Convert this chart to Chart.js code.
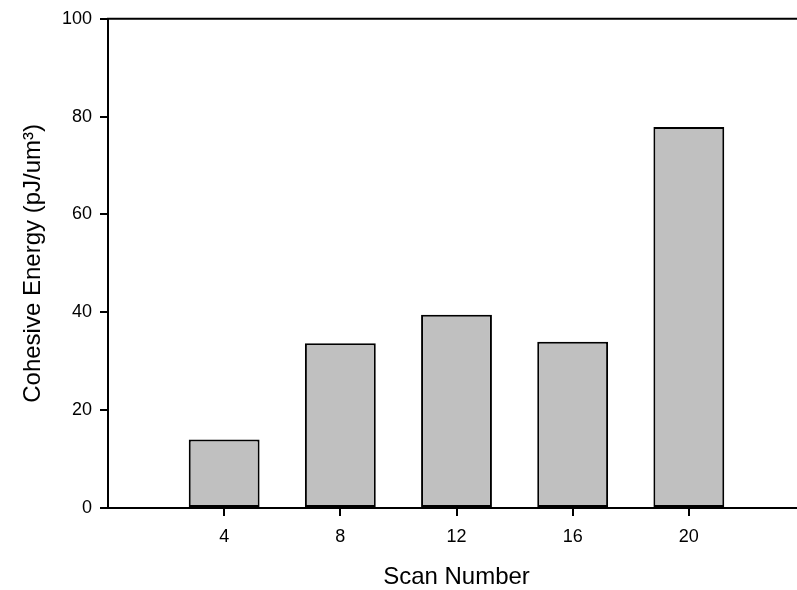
<!DOCTYPE html>
<html>
<head>
<meta charset="utf-8">
<script src="https://cdn.jsdelivr.net/npm/chart.js@4/dist/chart.umd.min.js"></script>
<style>
  html, body { margin: 0; padding: 0; background: #fff; overflow: hidden; }
  #wrap { position: relative; width: 805px; height: 590px; }
</style>
</head>
<body>
<div id="wrap"><canvas id="chart"></canvas></div>
<script>
// Cohesive energy measured after each scan count
const scanNumbers = [4, 8, 12, 16, 20];
const cohesiveEnergy = [14.0, 33.7, 39.5, 34.0, 77.9];
const xTickValues = [4, 8, 12, 16, 20];
const yTickValues = [0, 20, 40, 60, 80, 100];

const FONT = '"Liberation Sans", Arial, sans-serif';

// Box around the plotting area, plus outward tick marks on the x axis
const frame = {
  id: 'frame',
  afterDatasetsDraw(chart) {
    const { ctx, chartArea: a, scales } = chart;
    ctx.save();
    ctx.strokeStyle = '#000';
    ctx.lineWidth = 2;
    ctx.beginPath();
    ctx.moveTo(a.left, a.bottom);
    ctx.lineTo(a.left, a.top);
    ctx.lineTo(a.right, a.top);
    ctx.lineTo(a.right, a.bottom);
    ctx.stroke();
    ctx.beginPath();
    xTickValues.forEach(v => {
      const px = Math.round(scales.x.getPixelForValue(v));
      ctx.moveTo(px, a.bottom);
      ctx.lineTo(px, a.bottom + 8);
    });
    ctx.stroke();
    ctx.restore();
  }
};

new Chart(document.getElementById('chart'), {
  type: 'bar',
  data: {
    datasets: [{
      data: scanNumbers.map((s, i) => ({ x: s, y: cohesiveEnergy[i] })),
      backgroundColor: '#c0c0c0',
      borderColor: '#000',
      borderWidth: 2,
      borderSkipped: false,
      barPercentage: 0.61,
      categoryPercentage: 1.0
    }]
  },
  options: {
    responsive: true,
    maintainAspectRatio: false,
    animation: false,
    layout: { padding: { top: 16, right: 0, bottom: 0, left: 0 } },
    plugins: { legend: { display: false }, tooltip: { enabled: false } },
    scales: {
      x: {
        type: 'linear',
        min: 0,
        max: 24,
        offset: false,
        afterBuildTicks(axis) { axis.ticks = xTickValues.map(v => ({ value: v })); },
        afterFit(axis) { axis.height = 82; },
        ticks: {
          color: '#000',
          font: { family: FONT, size: 18 },
          padding: 10,
          maxRotation: 0,
          autoSkip: false
        },
        grid: {
          offset: false,
          drawOnChartArea: false,
          drawTicks: true,
          tickLength: 8,
          color: '#000',
          lineWidth: 2
        },
        border: { display: true, color: '#000', width: 2 },
        title: {
          display: true,
          text: 'Scan Number',
          color: '#000',
          font: { family: FONT, size: 24, lineHeight: 1.05 },
          padding: { top: 0, bottom: 0 }
        }
      },
      y: {
        min: 0,
        max: 100,
        afterBuildTicks(axis) { axis.ticks = yTickValues.map(v => ({ value: v })); },
        afterFit(axis) { axis.width = 108; },
        ticks: {
          color: '#000',
          font: { family: FONT, size: 18 },
          padding: 8
        },
        grid: {
          drawOnChartArea: false,
          drawTicks: true,
          tickLength: 8,
          color: '#000',
          lineWidth: 2
        },
        border: { display: true, color: '#000', width: 2 },
        title: {
          display: true,
          text: 'Cohesive Energy (pJ/um³)',
          color: '#000',
          font: { family: FONT, size: 24 },
          padding: { top: 19, bottom: 0 }
        }
      }
    }
  },
  plugins: [frame]
});
</script>
</body>
</html>
